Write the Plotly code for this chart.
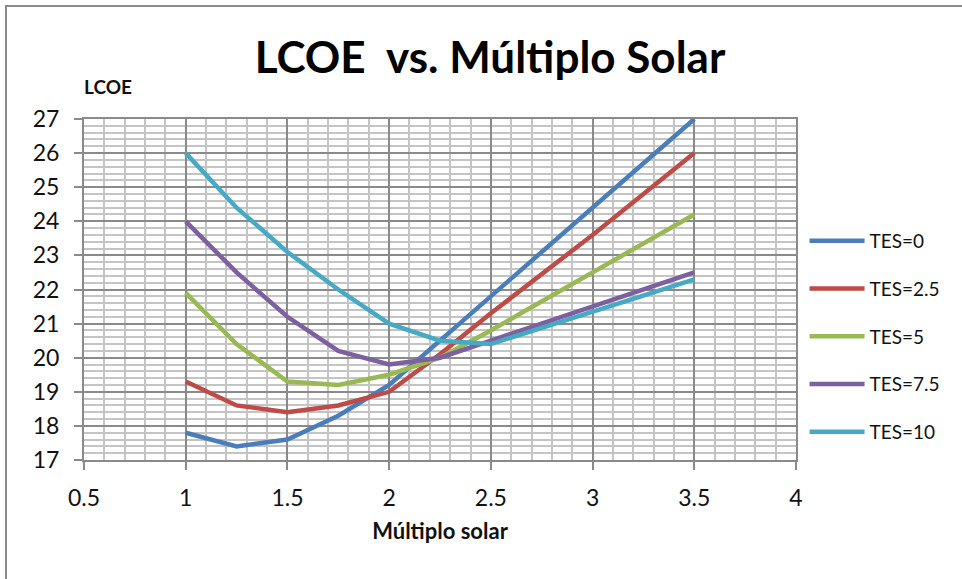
import plotly.graph_objects as go

x_vals = [1, 1.25, 1.5, 1.75, 2, 2.25, 2.5, 3, 3.5]
tes0 = [17.8, 17.4, 17.6, 18.3, 19.2, 20.5, 21.8, 24.4, 27.0]
tes25 = [19.3, 18.6, 18.4, 18.6, 19.0, 20.1, 21.3, 23.6, 26.0]
tes5 = [21.9, 20.4, 19.3, 19.2, 19.5, 20.0, 20.8, 22.5, 24.2]
tes75 = [24.0, 22.5, 21.2, 20.2, 19.8, 20.0, 20.5, 21.5, 22.5]
tes10 = [26.0, 24.4, 23.1, 22.0, 21.0, 20.5, 20.4, 21.35, 22.3]

names = ["TES=0", "TES=2.5", "TES=5", "TES=7.5", "TES=10"]
colors = ["#4A7EBB", "#BE4B48", "#98B954", "#7D60A0", "#46AAC5"]
series = [tes0, tes25, tes5, tes75, tes10]

x_ticks = [0.5, 1, 1.5, 2, 2.5, 3, 3.5, 4]
y_ticks = list(range(17, 28))

FONT = "Lato"
fig = go.Figure()
for name, col, ys in zip(names, colors, series):
    fig.add_trace(go.Scatter(x=x_vals, y=ys, mode="lines", name=name,
                             legendgroup=name,
                             line=dict(color=col, width=4.5)))

MAJ = "#8a8a8a"
MIN = "#c4c4c4"
fig.update_xaxes(range=[0.5, 4], tickvals=x_ticks, ticktext=[f"{v:g}" for v in x_ticks],
                 showgrid=True, gridcolor=MAJ, gridwidth=1.5,
                 minor=dict(dtick=0.1, tick0=0.5, showgrid=True, gridcolor=MIN, gridwidth=1.5),
                 ticks="outside", ticklen=8, tickcolor=MAJ, tickwidth=1.5,
                 ticklabelstandoff=8,
                 showline=True, linecolor=MAJ, linewidth=2, mirror=True,
                 zeroline=False, tickfont=dict(family=FONT, size=23, color="#111"),
                 title=dict(text="<b>Múltiplo solar</b>", font=dict(family=FONT, size=22, color="#111"),
                            standoff=14))
fig.update_yaxes(range=[17, 27], tickvals=y_ticks,
                 showgrid=True, gridcolor=MAJ, gridwidth=1.5,
                 minor=dict(dtick=0.2, tick0=17, showgrid=True, gridcolor=MIN, gridwidth=1.5),
                 ticks="outside", ticklen=8, tickcolor=MAJ, tickwidth=1.5,
                 ticklabelstandoff=10,
                 showline=True, linecolor=MAJ, linewidth=2, mirror=True,
                 zeroline=False, tickfont=dict(family=FONT, size=23, color="#111"))

fig.update_layout(
    width=962, height=579,
    margin=dict(l=84, r=166, t=119, b=119),
    paper_bgcolor="white", plot_bgcolor="white",
    title=dict(text="<b>LCOE  vs. Múltiplo Solar</b>", x=(253 + 727) / 2 / 962, xanchor="center",
               y=1 - 58 / 579, yanchor="middle",
               font=dict(family=FONT, size=44, color="#000")),
    legend=dict(x=1.012, y=(460 - 222) / 341, xanchor="left", yanchor="top",
                font=dict(family=FONT, size=19, color="#111"),
                itemwidth=55,
                tracegroupgap=20, bgcolor="rgba(0,0,0,0)"),
    annotations=[dict(text="<b>LCOE</b>", xref="paper", yref="paper",
                      x=(82 - 84) / 712, y=(460 - 86) / 341, xanchor="left", yanchor="middle",
                      showarrow=False, font=dict(family=FONT, size=19, color="#111"))],
    shapes=[dict(type="rect", xref="paper", yref="paper",
                 x0=(6 - 84) / 712, x1=(1000 - 84) / 712,
                 y0=(460 - 620) / 341, y1=(460 - 6) / 341,
                 line=dict(color="#8a8a8a", width=2), layer="below")],
)

fig.write_html("out.html")
